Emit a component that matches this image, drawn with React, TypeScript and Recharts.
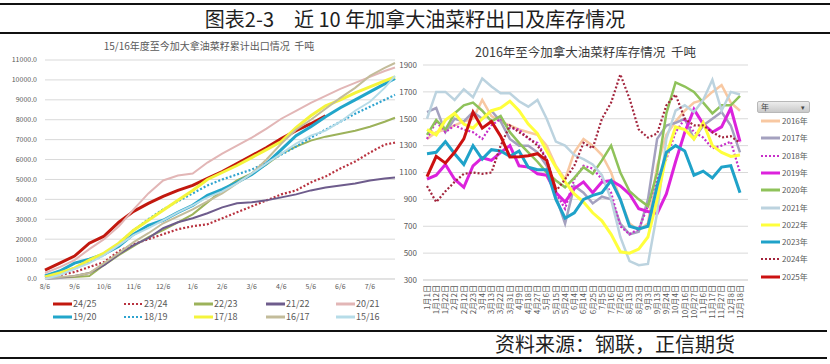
import React from "react";
import { CartesianGrid, Line, LineChart, XAxis, YAxis } from "recharts";

const FONT = '"Noto Sans CJK SC", "Noto Sans", sans-serif';

// ---- left chart: cumulative exports (kt), half-month steps from 8/6 ----
const LEFT_X = [0, 0.5, 1, 1.5, 2, 2.5, 3, 3.5, 4, 4.5, 5, 5.5, 6, 6.5, 7, 7.5, 8, 8.5, 9, 9.5, 10, 10.5, 11, 11.5, 11.85];
const LEFT_TICKS = [0, 1, 2, 3, 4, 5, 6, 7, 8, 9, 10, 11];
const LEFT_TICK_LABELS = ["8/6", "9/6", "10/6", "11/6", "12/6", "1/6", "2/6", "3/6", "4/6", "5/6", "6/6", "7/6"];
const LEFT_Y_TICKS = [0, 1000, 2000, 3000, 4000, 5000, 6000, 7000, 8000, 9000, 10000, 11000];

const S2425 = [450, 800, 1150, 1800, 2150, 2850, 3400, 3800, 4150, 4450, 4700, 5050, 5400, 5800, 6200, 6600, 7050, 7450, 7800, 8200, null, null, null, null, null];
const S2324 = [100, 200, 350, 600, 850, 1400, 1750, 2000, 2250, 2500, 2650, 2750, 3050, 3350, 3650, 3950, 4250, 4450, 4850, 5150, 5550, 5900, 6350, 6750, 6850];
const S2223 = [0, 50, 100, 150, 700, 1200, 1650, 2100, 2450, 2850, 3250, 3850, 4450, 4950, 5300, 5750, 6300, 6650, 6950, 7150, 7300, 7450, 7650, 7900, 8100];
const S2122 = [0, 50, 150, 300, 700, 1250, 1700, 2050, 2550, 2850, 3050, 3300, 3600, 3800, 3850, 3950, 4100, 4250, 4450, 4600, 4700, 4800, 4950, 5050, 5100];
const S2021 = [300, 600, 950, 1500, 2000, 2650, 3500, 4300, 4950, 5200, 5300, 5850, 6300, 6700, 7100, 7550, 8050, 8450, 8850, 9200, 9550, 9850, 10150, 10450, 10620];
const S1920 = [150, 400, 800, 1000, 1250, 1650, 2250, 2700, 2950, 3350, 3700, 4200, 4500, 4850, 5250, 5800, 6500, 7200, 7650, 8150, 8600, 9000, 9400, 9800, 10080];
const S1819 = [100, 300, 550, 850, 1200, 1800, 2450, 3000, 3500, 3900, 4300, 4700, 5000, 5250, 5500, 5850, 6250, 6650, 7100, 7500, 7900, 8300, 8650, 9000, 9250];
const S1718 = [100, 300, 550, 950, 1300, 1800, 2450, 2950, 3450, 3950, 4450, 5000, 5350, 5700, 6100, 6500, 6900, 7600, 8200, 8700, 9000, 9350, 9650, 9950, 10150];
const S1617 = [50, 100, 150, 300, 800, 1300, 1850, 2300, 2800, 3150, 3500, 3900, 4300, 4800, 5300, 6000, 6800, 7500, 8000, 8550, 9100, 9600, 10200, 10600, 10850];
const S1516 = [0, 200, 500, 800, 1200, 1700, 2200, 2550, 2950, 3350, 3700, 4100, 4400, 4800, 5300, 5800, 6300, 6800, 7200, 7450, 7900, 8450, 8900, 9600, 10200];

const LEFT_SERIES = [
  { key: "s2425", name: "24/25", data: S2425, color: "#c2180e", width: 3, dash: false },
  { key: "s2324", name: "23/24", data: S2324, color: "#b8323f", width: 2.2, dash: true },
  { key: "s2223", name: "22/23", data: S2223, color: "#9cb25a", width: 2, dash: false },
  { key: "s2122", name: "21/22", data: S2122, color: "#6e5c8c", width: 2, dash: false },
  { key: "s2021", name: "20/21", data: S2021, color: "#e2b6b6", width: 2, dash: false },
  { key: "s1920", name: "19/20", data: S1920, color: "#22a6ca", width: 3, dash: false },
  { key: "s1819", name: "18/19", data: S1819, color: "#2ea3cf", width: 2.2, dash: true },
  { key: "s1718", name: "17/18", data: S1718, color: "#f4f43c", width: 3, dash: false },
  { key: "s1617", name: "16/17", data: S1617, color: "#c3bc9a", width: 2, dash: false },
  { key: "s1516", name: "15/16", data: S1516, color: "#b6dce8", width: 2, dash: false },
];

// ---- right chart: stocks (kt) by calendar date ----
const RIGHT_DATES = ["1月1日", "1月12日", "1月22日", "2月2日", "2月12日", "2月23日", "3月4日", "3月13日", "3月22日", "3月31日", "4月9日", "4月18日", "4月27日", "5月6日", "5月15日", "5月24日", "6月4日", "6月14日", "6月25日", "7月5日", "7月16日", "7月26日", "8月13日", "8月23日", "9月3日", "9月13日", "9月24日", "10月4日", "10月16日", "10月27日", "11月6日", "11月17日", "11月27日", "12月8日", "12月18日"];
const RIGHT_Y_TICKS = [300, 500, 700, 900, 1100, 1300, 1500, 1700, 1900];

const R2016 = [1350, 1400, 1420, 1450, 1480, 1500, 1640, 1520, 1480, 1450, 1420, 1400, 1380, 1300, 1150, 1050, 1250, 1350, 1300, 1230, 1100, 900, 720, 670, 720, 1150, 1380, 1480, 1560, 1620, 1640, 1700, 1750, 1620, 1560];
const R2017 = [1550, 1580, 1400, 1500, 1480, 1550, 1500, 1560, 1480, 1350, 1300, 1300, 1250, 1150, 920, 720, 1000, 950, 870, 920, 900, 720, 640, 660, 900, 1350, 1450, 1470, 1500, 1350, 1450, 1500, 1550, 1450, 1250];
const R2018 = [1350, 1480, 1400, 1450, 1420, 1400, 1350, 1450, 1500, 1430, 1420, 1350, 1320, 1200, 950, 830, 1050, 1150, 1130, 1050, 950, 700, 640, 680, 850, 1050, 1200, 1400, 1500, 1400, 1360, 1280, 1300, 1330, 1100];
const R2019 = [1050, 1080, 1160, 1050, 990, 1150, 1210, 1190, 1250, 1300, 1150, 1140, 1090, 1080, 950, 880, 980, 1030, 950, 1030, 1040, 1000, 940, 830, 810, 795, 940, 1180, 1400, 1570, 1460, 1400, 1440, 1580, 1330];
const R2020 = [1380, 1490, 1420, 1540, 1600, 1620, 1560, 1480, 1520, 1400, 1320, 1250, 1180, 1100, 1040, 990, 1060, 1140, 1090, 1190, 1300, 1100, 960, 900, 850, 1100, 1540, 1770, 1740, 1700, 1620, 1540, 1600, 1600, 1670];
const R2021 = [1500, 1700, 1700, 1640, 1720, 1660, 1800, 1740, 1690, 1690, 1630, 1590, 1640, 1500, 1330, 1300, 1230, 1200, 1160, 1080, 900, 620, 440, 410, 420, 800, 1350, 1560, 1600, 1550, 1640, 1790, 1560, 1700, 1680];
const R2022 = [1420, 1380, 1490, 1540, 1460, 1430, 1500, 1560, 1580, 1630, 1560, 1460, 1390, 1260, 1140, 1030, 940, 880, 800, 740, 640, 510, 500, 530, 620, 900, 1230, 1440, 1420, 1350, 1470, 1300, 1250, 1220, 1230];
const R2023 = [1240, 1250, 1330, 1240, 1160, 1300, 1200, 1270, 1260, 1220, 1260, 1140, 1120, 1120, 900, 760, 800, 900, 930, 950, 1040, 900, 700, 680, 700, 1000, 1250, 1300, 1260, 1080, 1110, 1060, 1140, 1150, 950];
const R2024 = [1000, 880, 960, 1030, 1090, 1100, 1090, 1100, 1300, 1450, 1400, 1360, 1300, 1200, 960, 1050, 1150, 1320, 1280, 1500, 1620, 1830, 1650, 1420, 1360, 1390, 1600, 1680, 1500, 1450, 1450, 1400, 1360, 1370, 1320];
const R2025 = [1070, 1220, 1170, 1250, 1350, 1550, 1430, 1480, 1370, 1216, 1218, 1225, 1240, 1190, 970, null, null, null, null, null, null, null, null, null, null, null, null, null, null, null, null, null, null, null, null];

const RIGHT_SERIES = [
  { key: "y2016", name: "2016年", data: R2016, color: "#f8c8a2", width: 2.5, dash: false },
  { key: "y2017", name: "2017年", data: R2017, color: "#a4a1bf", width: 2.5, dash: false },
  { key: "y2018", name: "2018年", data: R2018, color: "#c72fc9", width: 2.2, dash: true },
  { key: "y2019", name: "2019年", data: R2019, color: "#dc22dc", width: 3, dash: false },
  { key: "y2020", name: "2020年", data: R2020, color: "#8fc25a", width: 2.5, dash: false },
  { key: "y2021", name: "2021年", data: R2021, color: "#bcd3df", width: 2.5, dash: false },
  { key: "y2022", name: "2022年", data: R2022, color: "#ffff3c", width: 3, dash: false },
  { key: "y2023", name: "2023年", data: R2023, color: "#1fa2c9", width: 3, dash: false },
  { key: "y2024", name: "2024年", data: R2024, color: "#a3253d", width: 2.2, dash: true },
  { key: "y2025", name: "2025年", data: R2025, color: "#cc1111", width: 3, dash: false },
];

const leftRows = LEFT_X.map((m, k) => {
  const row: Record<string, number | null> = { m };
  LEFT_SERIES.forEach((s) => (row[s.key] = s.data[k]));
  return row;
});

const rightRows = RIGHT_DATES.map((d, k) => {
  const row: Record<string, string | number | null> = { d };
  RIGHT_SERIES.forEach((s) => (row[s.key] = s.data[k]));
  return row;
});

const AXIS_TEXT = "#595959";
const GRID = "#d9d9d9";

function RotatedTick(props: any) {
  const { x, y, payload } = props;
  return (
    <text
      x={x}
      y={y}
      transform={`rotate(-90, ${x}, ${y})`}
      textAnchor="end"
      dy="0.35em"
      fontSize={8}
      fill={AXIS_TEXT}
      fontFamily={FONT}
    >
      {payload.value}
    </text>
  );
}

function Sample({ color, dash, width }: { color: string; dash: boolean; width: number }) {
  return (
    <svg width={21} height={6} style={{ display: "block" }}>
      <line
        x1={1}
        y1={3}
        x2={20}
        y2={3}
        stroke={color}
        strokeWidth={dash ? 2.2 : 3}
        strokeDasharray={dash ? "2 2" : undefined}
      />
    </svg>
  );
}

export default function App() {
  const legendCols = [52, 123, 193, 265, 335];
  return (
    <div
      style={{
        position: "absolute",
        left: 0,
        top: 0,
        width: 830,
        height: 364,
        background: "#fff",
        overflow: "hidden",
        fontFamily: FONT,
      }}
    >
      {/* header */}
      <div style={{ position: "absolute", left: 0, top: 3, width: 830, height: 1.5, background: "#111" }} />
      <div
        style={{
          position: "absolute",
          left: 0,
          top: 5,
          width: 830,
          textAlign: "center",
          fontSize: 20,
          lineHeight: "27px",
          color: "#1e1e1e",
          whiteSpace: "pre",
        }}
      >
        {"图表2-3\u3000近 10 年加拿大油菜籽出口及库存情况"}
      </div>
      <div style={{ position: "absolute", left: 0, top: 32, width: 830, height: 2, background: "#111" }} />

      {/* left chart */}
      <div
        style={{
          position: "absolute",
          left: 0,
          top: 38,
          width: 410,
          textAlign: "center",
          fontSize: 10,
          color: AXIS_TEXT,
          whiteSpace: "pre",
          paddingLeft: 8,
          boxSizing: "border-box",
        }}
      >
        {"15/16年度至今加大拿油菜籽累计出口情况  千吨"}
      </div>
      <div style={{ position: "absolute", left: 0, top: 35 }}>
        <LineChart width={410} height={265} data={leftRows} margin={{ top: 25, right: 15, left: 0, bottom: 1 }}>
          <CartesianGrid stroke={GRID} vertical={false} />
          <XAxis
            dataKey="m"
            type="number"
            domain={[0, 11.85]}
            ticks={LEFT_TICKS}
            tickFormatter={(v: number) => LEFT_TICK_LABELS[v]}
            tick={{ fontSize: 7, fill: AXIS_TEXT, fontFamily: FONT }}
            tickLine={false}
            tickSize={3}
            tickMargin={2}
            height={20}
            axisLine={{ stroke: GRID }}
            interval={0}
          />
          <YAxis
            domain={[0, 11000]}
            ticks={LEFT_Y_TICKS}
            tickFormatter={(v: number) => v.toFixed(1)}
            tick={{ fontSize: 7, fill: AXIS_TEXT, fontFamily: FONT }}
            tickLine={false}
            axisLine={false}
            width={45}
            interval={0}
          />
          {LEFT_SERIES.map((s) => (
            <Line
              key={s.key}
              dataKey={s.key}
              type="linear"
              stroke={s.color}
              strokeWidth={s.width}
              strokeDasharray={s.dash ? "2 2" : undefined}
              dot={false}
              isAnimationActive={false}
            />
          ))}
        </LineChart>
      </div>
      {/* left legend */}
      {LEFT_SERIES.map((s, i) => (
        <div
          key={s.key}
          style={{
            position: "absolute",
            left: legendCols[i % 5],
            top: i < 5 ? 298 : 311,
            display: "flex",
            alignItems: "center",
            fontSize: 9,
            lineHeight: "12px",
            color: AXIS_TEXT,
          }}
        >
          <Sample color={s.color} dash={s.dash} width={s.width} />
          <span>{s.name}</span>
        </div>
      ))}

      {/* right chart */}
      <div
        style={{
          position: "absolute",
          left: 423,
          top: 43,
          width: 325,
          textAlign: "center",
          fontSize: 12.5,
          lineHeight: "18px",
          color: "#3a3a3a",
          whiteSpace: "pre",
        }}
      >
        {"2016年至今加拿大油菜籽库存情况  千吨"}
      </div>
      <div style={{ position: "absolute", left: 380, top: 35 }}>
        <LineChart width={380} height={290} data={rightRows} margin={{ top: 30, right: 12, left: 0, bottom: 0 }}>
          <CartesianGrid stroke={GRID} vertical={false} />
          <XAxis
            dataKey="d"
            interval={0}
            tick={<RotatedTick />}
            tickLine={false}
            tickSize={3}
            tickMargin={2}
            height={45}
            padding={{ left: 4, right: 8 }}
            axisLine={{ stroke: GRID }}
          />
          <YAxis
            domain={[300, 1900]}
            ticks={RIGHT_Y_TICKS}
            tick={{ fontSize: 8, fill: AXIS_TEXT, fontFamily: FONT }}
            tickLine={false}
            tickSize={4}
            tickMargin={2}
            axisLine={false}
            width={43}
            interval={0}
          />
          {RIGHT_SERIES.map((s) => (
            <Line
              key={s.key}
              dataKey={s.key}
              type="linear"
              stroke={s.color}
              strokeWidth={s.width}
              strokeDasharray={s.dash ? "2 2" : undefined}
              dot={false}
              isAnimationActive={false}
            />
          ))}
        </LineChart>
      </div>
      {/* right legend */}
      <div
        style={{
          position: "absolute",
          left: 757,
          top: 101,
          width: 53,
          height: 12,
          borderRadius: 2,
          border: "1px solid #b8b8b8",
          background: "linear-gradient(#ececec, #c9c9c9)",
          boxSizing: "border-box",
          fontSize: 8,
          lineHeight: "10px",
          color: "#444",
        }}
      >
        <span style={{ position: "absolute", left: 3, top: 0 }}>年</span>
        <span style={{ position: "absolute", right: 4, top: 0, fontSize: 7 }}>▾</span>
      </div>
      {RIGHT_SERIES.map((s, i) => (
        <div
          key={s.key}
          style={{
            position: "absolute",
            left: 760,
            top: 115 + i * 17.3,
            display: "flex",
            alignItems: "center",
            fontSize: 8,
            lineHeight: "12px",
            color: AXIS_TEXT,
          }}
        >
          <Sample color={s.color} dash={s.dash} width={s.width} />
          <span style={{ marginLeft: 1 }}>{s.name}</span>
        </div>
      ))}

      {/* footer */}
      <div style={{ position: "absolute", left: 0, top: 330, width: 827, height: 1.5, background: "#111" }} />
      <div
        style={{
          position: "absolute",
          left: 480,
          top: 331,
          width: 270,
          textAlign: "center",
          fontSize: 20,
          lineHeight: "26px",
          color: "#1e1e1e",
        }}
      >
        资料来源：钢联，正信期货
      </div>
      <div style={{ position: "absolute", left: 0, top: 357, width: 827, height: 1.5, background: "#111" }} />
    </div>
  );
}
